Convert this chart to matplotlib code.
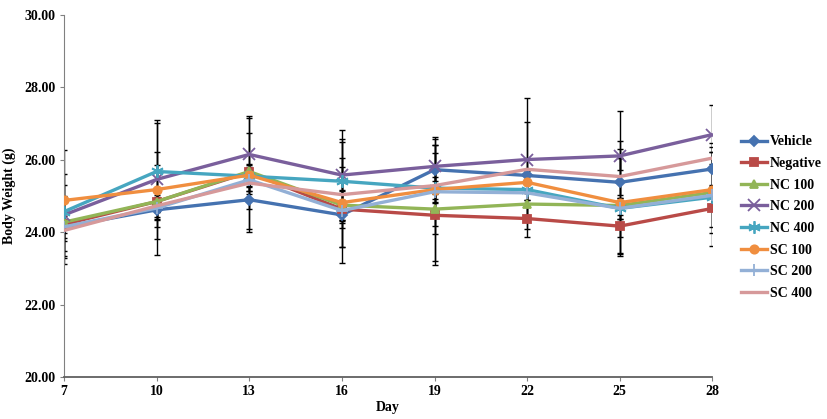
import matplotlib
matplotlib.use("Agg")
import matplotlib.pyplot as plt

# body weight (g) per group, days 7..28
days = [7, 10, 13, 16, 19, 22, 25, 28]
groups = ['Vehicle', 'Negative', 'NC 100', 'NC 200', 'NC 400', 'SC 100', 'SC 200', 'SC 400']

vehicle  = [24.15, 24.62, 24.90, 24.48, 25.73, 25.57, 25.38, 25.75]
negative = [24.22, 24.85, 25.66, 24.64, 24.47, 24.38, 24.17, 24.66]
nc100    = [24.28, 24.85, 25.68, 24.75, 24.64, 24.78, 24.74, 25.10]
nc200    = [24.48, 25.46, 26.15, 25.58, 25.82, 26.01, 26.11, 26.70]
nc400    = [24.57, 25.68, 25.55, 25.41, 25.22, 25.18, 24.66, 24.97]
sc100    = [24.88, 25.18, 25.58, 24.82, 25.18, 25.38, 24.82, 25.18]
sc200    = [24.15, 24.67, 25.45, 24.60, 25.12, 25.09, 24.66, 25.02]
sc400    = [24.05, 24.73, 25.36, 25.04, 25.29, 25.74, 25.54, 26.05]

# standard deviations (error bars)
vehicle_sd  = [0.85, 1.25, 0.89, 1.33, 0.90, 1.48, 1.98, 0.71]
negative_sd = [1.10, 0.30, 1.56, 0.52, 1.26, 0.50, 0.30, 1.04]
nc100_sd    = [0.30, 0.30, 1.05, 0.40, 1.55, 0.30, 1.30, 1.12]
nc200_sd    = [1.13, 1.65, 1.00, 1.24, 0.75, 1.70, 0.40, 0.81]
nc400_sd    = [0.40, 1.34, 0.30, 1.16, 0.30, 0.30, 0.30, 0.30]
sc100_sd    = [1.40, 1.04, 0.30, 1.23, 1.23, 0.30, 1.48, 1.03]
sc200_sd    = [0.30, 0.30, 0.30, 0.30, 0.30, 0.30, 0.30, 0.30]
sc400_sd    = [0.30, 0.30, 0.30, 1.46, 1.12, 0.30, 0.50, 0.30]

series = [vehicle, negative, nc100, nc200, nc400, sc100, sc200, sc400]
errors = [vehicle_sd, negative_sd, nc100_sd, nc200_sd, nc400_sd, sc100_sd, sc200_sd, sc400_sd]

colors = ['#4572b0', '#b94a47', '#92b557', '#7a5f9c', '#46a6c0', '#f08e3f', '#93b0d6', '#d6999a']
markers = ['D', 's', '^', 'x', (6, 2, 0), 'o', '+', None]
msizes = [5, 6, 6, 8, 9, 6, 8, 0]

plt.rcParams['font.family'] = ['Liberation Serif', 'DejaVu Serif']
plt.rcParams['font.weight'] = 'bold'

fig = plt.figure(figsize=(8.27, 4.19), dpi=100)
ax = fig.add_axes([0.0774, 0.100, 0.784, 0.864])

# error bars first, lines on top
for vals, sd in zip(series, errors):
    ax.errorbar(days, vals, yerr=sd, fmt='none', ecolor='black', elinewidth=1.0,
                capsize=2.5, capthick=1.0, zorder=2)
for vals, name, c, m, ms in zip(series, groups, colors, markers, msizes):
    ax.plot(days, vals, color=c, linewidth=2.4, marker=m, markersize=ms,
            markeredgewidth=1.3, markeredgecolor=c, label=name, zorder=3)

ax.set_xlim(7, 28)
ax.set_ylim(20, 30)
ax.set_xticks(days)
ax.set_yticks([20, 22, 24, 26, 28, 30])
ax.set_yticklabels(['%.2f' % v for v in [20, 22, 24, 26, 28, 30]])
ax.tick_params(axis='both', labelsize=10, direction='out', length=3, color='#808080', pad=3)
for lab in ax.get_xticklabels() + ax.get_yticklabels():
    lab.set_fontweight('bold')

for s in ['top', 'right']:
    ax.spines[s].set_visible(False)
ax.spines['left'].set_color('#808080')
ax.spines['bottom'].set_color('#606060')
ax.spines['bottom'].set_linewidth(1.3)

ax.set_xlabel('Day', fontsize=10, fontweight='bold', labelpad=2)
ax.set_ylabel('Body Weight (g)', fontsize=10, fontweight='bold', labelpad=6)

fig.legend(loc='upper left', bbox_to_anchor=(0.889, 0.69), frameon=False,
           prop={'size': 10, 'weight': 'bold'}, handlelength=1.9, handletextpad=0.2,
           labelspacing=0.62, borderaxespad=0)

fig.savefig('out.png', dpi=100)
